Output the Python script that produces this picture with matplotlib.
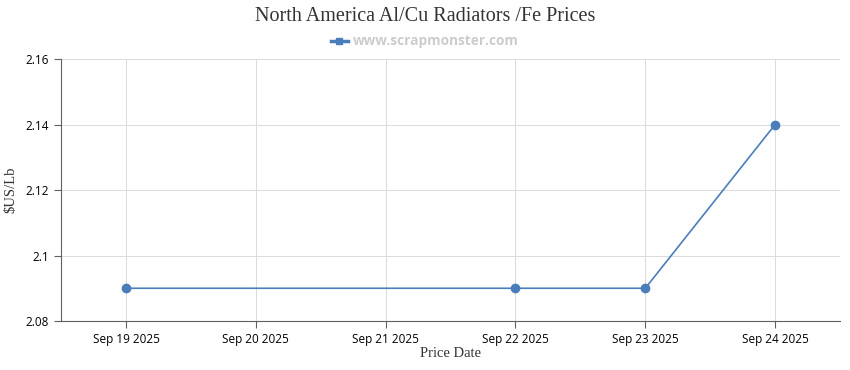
import matplotlib
matplotlib.use("Agg")
import matplotlib.pyplot as plt
from matplotlib.lines import Line2D
import pandas as pd

# data
price_dates = ["2025-09-19", "2025-09-22", "2025-09-23", "2025-09-24"]
prices = [2.09, 2.09, 2.09, 2.14]
tick_dates = ["2025-09-19", "2025-09-20", "2025-09-21", "2025-09-22", "2025-09-23", "2025-09-24"]
y_ticks = [2.08, 2.1, 2.12, 2.14, 2.16]
y_tick_labels = ["2.08", "2.1", "2.12", "2.14", "2.16"]

line_color = "#4a7ebb"
grid_color = "#dcdcdc"
axis_color = "#606060"

x = pd.to_datetime(price_dates)
ticks = pd.to_datetime(tick_dates)

fig = plt.figure(figsize=(8.5, 3.7), dpi=100)
ax = fig.add_axes([0.0718, 0.1324, 0.9165, 0.7081])

ax.plot(x, prices, color=line_color, lw=1.2, marker="o", ms=6, zorder=3)

ax.set_xlim(ticks[0] - pd.Timedelta(hours=12), ticks[-1] + pd.Timedelta(hours=12))
ax.set_ylim(y_ticks[0], y_ticks[-1])
ax.set_xticks(ticks)
ax.set_xticklabels([t.strftime("%b %d %Y") for t in ticks])
ax.set_yticks(y_ticks)
ax.set_yticklabels(y_tick_labels)

ax.grid(True, color=grid_color, lw=0.75)
ax.set_axisbelow(True)
for s in ["top", "right"]:
    ax.spines[s].set_visible(False)
for s in ["left", "bottom"]:
    ax.spines[s].set_color(axis_color)
    ax.spines[s].set_linewidth(0.8)
ax.tick_params(colors=axis_color, labelcolor="black", labelsize=8.5, length=5, width=0.8,
               direction="out")
for lbl in ax.get_xticklabels() + ax.get_yticklabels():
    lbl.set_family("Open Sans")

ax.set_xlabel("Price Date", family="Liberation Serif", fontsize=10.5, color="#333333", labelpad=1)
ax.set_ylabel("$US/Lb", family="Liberation Serif", fontsize=10.5, color="#333333", labelpad=6)

fig.text(0.5, 0.955, "North America Al/Cu Radiators /Fe Prices", ha="center", va="center",
         family="Liberation Serif", fontsize=14.5, color="#333333")

handle = Line2D([], [], color=line_color, lw=2.5, marker="s", ms=5)
leg = fig.legend([handle], ["www.scrapmonster.com"], loc="center", bbox_to_anchor=(0.5, 0.888),
                 frameon=False, handlelength=1.2, handletextpad=0.4,
                 prop={"family": "Open Sans", "weight": "bold", "size": 9.8})
for t in leg.get_texts():
    t.set_color("#cccccc")

fig.savefig("out.png", dpi=100)
